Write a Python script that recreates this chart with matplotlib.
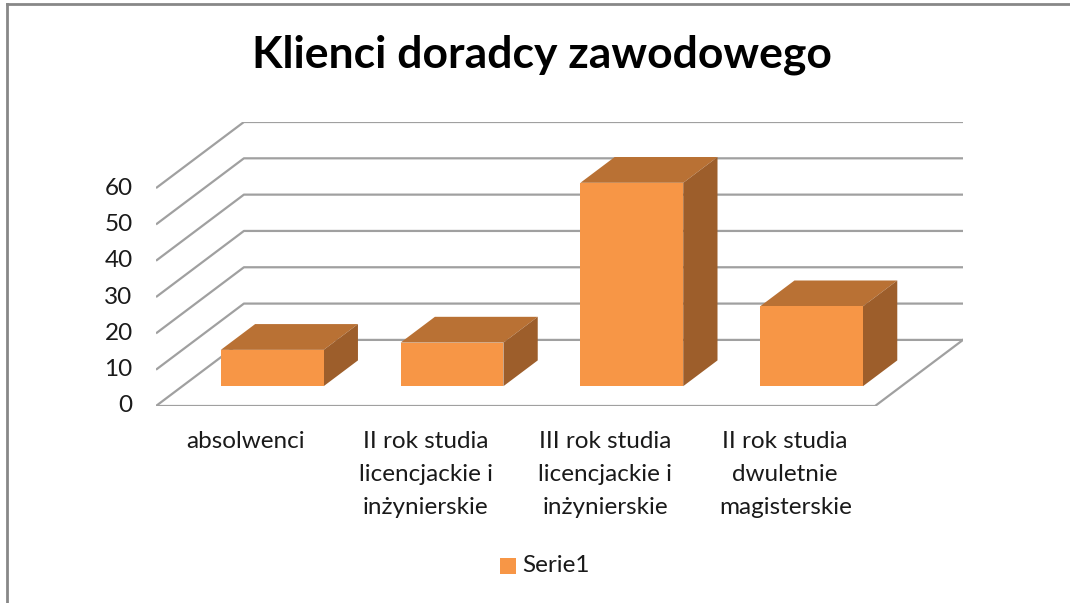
import matplotlib.pyplot as plt
from matplotlib.patches import Polygon, Rectangle
from matplotlib.lines import Line2D

plt.rcParams['font.family'] = ['Lato', 'DejaVu Sans']

categories = ["absolwenci",
              "II rok studia\nlicencjackie i\ninżynierskie",
              "III rok studia\nlicencjackie i\ninżynierskie",
              "II rok studia\ndwuletnie\nmagisterskie"]
values = [10, 12, 56, 22]
yticks = [0, 10, 20, 30, 40, 50, 60]
series_name = "Serie1"

# oblique projection: depth 0..1 shifts by (ox categories, oy value units)
ox = 0.489
oy = 18.2
d0, d1 = 0.3, 0.69
half_w = 0.286
ymax = 60

front_col = "#F79646"
top_col = "#B97134"
side_col = "#9D5E2B"
grid_col = "#A0A0A0"
txt_col = "#1a1a1a"

fig = plt.figure(figsize=(10.7, 6.03), dpi=100)
W, H = 1070, 603
ax = fig.add_axes([156 / W, (H - 406) / H, 807 / W, 284 / H])
n = len(categories)
ax.set_xlim(0, n + ox)
ax.set_ylim(0, ymax + oy)
ax.axis("off")

# walls / grid
for v in yticks:
    ax.plot([0, ox, n + ox], [v, v + oy, v + oy], color=grid_col, lw=1.6,
            solid_capstyle="butt", zorder=1)
    ax.text(-0.13, v, str(v), ha="right", va="center", fontsize=17.5,
            color=txt_col)
ax.plot([0, n, n + ox], [0, 0, oy], color=grid_col, lw=1.6, zorder=1)

# bars
for i, v in enumerate(values):
    cx = i + 0.5
    xl = cx - half_w + ox * d0
    xr = cx + half_w + ox * d0
    yb = oy * d0
    yt = v + oy * d0
    ddx = ox * (d1 - d0)
    ddy = oy * (d1 - d0)
    ax.add_patch(Polygon([[xl, yt], [xr, yt], [xr + ddx, yt + ddy], [xl + ddx, yt + ddy]],
                         closed=True, facecolor=top_col, edgecolor="none", zorder=3))
    ax.add_patch(Polygon([[xr, yb], [xr + ddx, yb + ddy], [xr + ddx, yt + ddy], [xr, yt]],
                         closed=True, facecolor=side_col, edgecolor="none", zorder=3))
    ax.add_patch(Rectangle((xl, yb), xr - xl, yt - yb, facecolor=front_col,
                           edgecolor="none", zorder=4))

# category labels
for i, c in enumerate(categories):
    ax.text(i + 0.5, -6.8, c, ha="center", va="top", fontsize=17.5,
            color=txt_col, linespacing=1.72)

fig.text(542 / W, 1 - 55 / H, "Klienci doradcy zawodowego", ha="center",
         va="center", fontsize=32, fontweight="bold", color="black")

# legend
fig.patches.append(Rectangle((500 / W, 1 - 574 / H), 16 / W, 16 / H,
                             transform=fig.transFigure, facecolor=front_col,
                             edgecolor="none"))
fig.text(522 / W, 1 - 566 / H, series_name, ha="left", va="center",
         fontsize=17.5, color=txt_col)

# chart frame
fig.add_artist(Line2D([7 / W, 7 / W], [0, 1 - 4 / H], transform=fig.transFigure,
                      color="#888888", lw=2))
fig.add_artist(Line2D([7 / W, 1], [1 - 4 / H, 1 - 4 / H], transform=fig.transFigure,
                      color="#888888", lw=2))

fig.savefig("out.png", dpi=100)
